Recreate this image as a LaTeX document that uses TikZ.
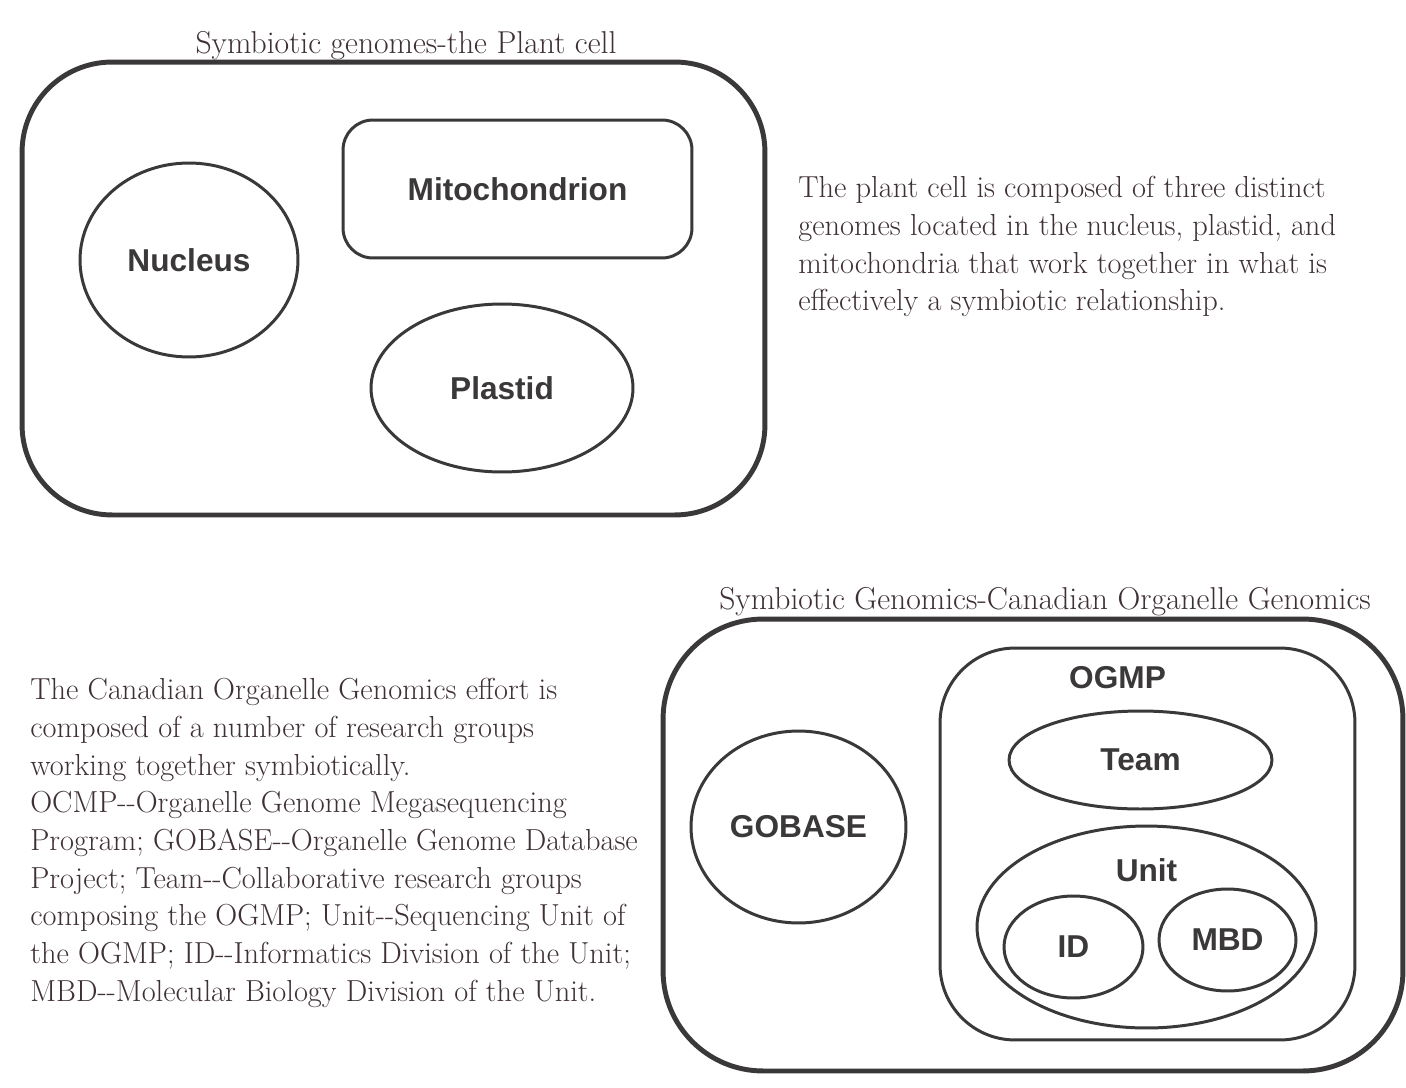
\documentclass[tikz,border=0pt]{standalone}
\usepackage{fontspec}
\newfontfamily\labelfont{Liberation Sans}
\usetikzlibrary{shapes.geometric,positioning}
\definecolor{inkline}{HTML}{3A3838}
\definecolor{inktext}{HTML}{3E3036}
\newcommand{\dbl}{-\kern0pt-}

\begin{document}
\begin{tikzpicture}[x=0.02cm, y=-0.02cm,
  outerbox/.style={draw=inkline, line width=2.8pt, rectangle, inner sep=0pt},
  innerbox/.style={draw=inkline, line width=1.7pt, rectangle, inner sep=0pt, font=\labelfont\bfseries\fontsize{18}{20}\selectfont, text=inkline},
  blob/.style={draw=inkline, line width=1.7pt, ellipse, inner sep=0pt, font=\labelfont\bfseries\fontsize{18}{20}\selectfont, text=inkline},
  lbl/.style={inner sep=0pt, font=\labelfont\bfseries\fontsize{18}{20}\selectfont, text=inkline},
  heading/.style={inner sep=0pt, font=\fontsize{18}{20}\selectfont, text=inktext},
  caption/.style={inner sep=0pt, font=\fontsize{17.3}{21.45}\selectfont, text=inktext, align=left}
]
\useasboundingbox[fill=white] (0,0) rectangle (1406,1088);

% plant cell
\node[outerbox, rounded corners=1.8cm, minimum width=14.86cm, minimum height=9.06cm] (cell) at (393.5,288.5) {};
\node[heading] (celltitle) at (406,46) {Symbiotic genomes-the Plant cell};
\node[innerbox, rounded corners=0.6cm, minimum width=6.98cm, minimum height=2.76cm] (mito) at (517.5,189) {Mitochondrion};
\node[blob, minimum width=4.36cm, minimum height=3.88cm] (nucleus) at (189,260) {Nucleus};
\node[blob, minimum width=5.24cm, minimum height=3.36cm] (plastid) at (502,388) {Plastid};
\node[caption, anchor=north west] (cellnote) at (798,176) {The plant cell is composed of three distinct\\
genomes located in the nucleus, plastid, and\\
mitochondria that work together in what is\\
effectively a symbiotic relationship.};

% canadian organelle genomics
\node[outerbox, rounded corners=2cm, minimum width=14.8cm, minimum height=9.04cm] (cog) at (1033,845) {};
\node[heading] (cogtitle) at (1045,602) {Symbiotic Genomics-Canadian Organelle Genomics};
\node[blob, minimum width=4.3cm, minimum height=3.84cm] (gobase) at (798.5,827) {GOBASE};
\node[innerbox, rounded corners=1.5cm, minimum width=8.3cm, minimum height=7.84cm] (ogmp) at (1147.5,844) {};
\node[lbl, below=0.4cm of ogmp.north, xshift=-0.6cm] (ogmplbl) {OGMP};
\node[blob, minimum width=5.26cm, minimum height=1.96cm] (team) at (1140.5,760) {Team};
\node[blob, minimum width=6.78cm, minimum height=4.04cm] (unit) at (1146.5,927) {};
\node[lbl, below=0.68cm of unit.north] (unitlbl) {Unit};
\node[blob, minimum width=2.78cm, minimum height=2.04cm] (id) at (1073.5,947) {ID};
\node[blob, minimum width=2.74cm, minimum height=2.04cm] (mbd) at (1227.5,940) {MBD};
\node[caption, anchor=north west] (cognote) at (30,678) {The Canadian Organelle Genomics effort is\\
composed of a number of research groups\\
working together symbiotically.\\
OCMP\dbl Organelle Genome Megasequencing\\
Program; GOBASE\dbl Organelle Genome Database\\
Project; Team\dbl Collaborative research groups\\
composing the OGMP; Unit\dbl Sequencing Unit of\\
the OGMP; ID\dbl Informatics Division of the Unit;\\
MBD\dbl Molecular Biology Division of the Unit.};
\end{tikzpicture}
\end{document}
